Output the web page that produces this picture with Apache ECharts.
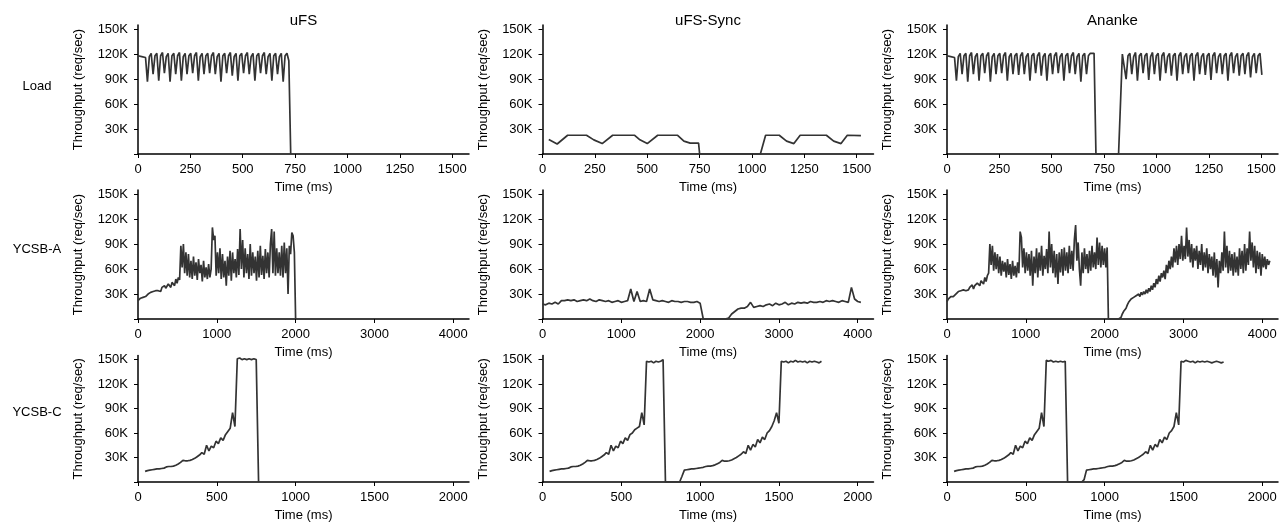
<!DOCTYPE html>
<html>
<head>
<meta charset="utf-8">
<script src="https://cdn.jsdelivr.net/npm/echarts@6/dist/echarts.min.js"></script>
<style>
html,body{margin:0;padding:0;background:#fff;}
#c{width:1286px;height:523px;}
</style>
</head>
<body>
<div id="c"></div>
<script>
// ---------------- DATA (throughput in K req/sec) ----------------
const columnTitles = ['uFS', 'uFS-Sync', 'Ananke'];
const rowLabels = ['Load', 'YCSB-A', 'YCSB-C'];
const yTickValues = [30, 60, 90, 120, 150];
const xTickValuesLoad = [0, 250, 500, 750, 1000, 1250, 1500];
const xTickValuesA = [0, 1000, 2000, 3000, 4000];
const xTickValuesC = [0, 500, 1000, 1500, 2000];

// Load workload (sampled every 9 ms from 0 ms)
const loadUfsVals = [118,118,117,117,116,
 87,117,121, 96,118,121, 88,118,122, 97,117,121, 87,118,121,
 96,118,122, 88,117,121, 96,118,121, 97,118,122, 88,117,121,
 96,118,121, 97,118,122, 96,117,121, 87,118,121, 97,118,122,
 94,117,121, 88,118,121, 97,118,122, 96,117,121, 88,118,121,
 97,118,122, 96,117,121, 88,118,121, 96,117,121, 87,118,121,
 112, 0];
const loadAnankeVals = [118,118,117,117,116,
 88,117,121, 96,118,121, 87,118,122, 96,117,121, 88,118,121,
 97,118,122, 87,117,121, 96,118,121, 97,118,122, 88,117,121,
 96,118,121, 95,118,122, 96,117,121, 88,118,121, 97,118,122,
 94,117,121, 88,118,121, 96,118,122, 97,117,121, 88,118,121,
 97,118,122, 96,117,121, 87,118,121, 96,118,121,
 121,121,0,
 0,0,0,0,0,0,0,0,0,0,0,0,0,
 120,121,
 90,118,121, 96,117,122, 88,118,121, 97,118,121, 89,117,122,
 96,118,121, 88,118,122, 97,117,121, 94,118,121, 88,118,122,
 96,117,121, 97,118,121, 88,118,122, 96,117,121, 95,118,121,
 89,118,122, 97,117,121, 96,118,121, 88,118,122, 97,117,121,
 94,118,121, 96,118,122, 92,117,121, 97,118,121,
 95];
// uFS-Sync Load: [time ms, K req/sec]
const loadSyncPts = [[30,17.5],[70,12],[120,22.5],[210,22.5],[245,17],[285,12.5],[335,22.5],[440,22.5],[465,17],[500,12.5],[550,22.5],[645,22.5],[675,15.5],[705,13],[745,13],[750,0],[1040,0],[1065,22.5],[1130,22.5],[1165,15.5],[1200,12.5],[1230,22.5],[1355,22.5],[1390,15.5],[1425,12.5],[1455,22.5],[1520,22]];

// YCSB-A (uFS & Ananke sampled every 16 ms, uFS-Sync every 40 ms, from 0 ms)
const ycsbAUfsVals = [22,24,25,27,26,28,27,
 29,30,29,32,31,33,32,34,35,
 34,36,33,38,36,40,37,39,42,41,38,44,
 46,40,48,43,50,47,
 88,
 62,90,55,80,52,78,50,70,48,75,52,68,47,72,55,65,45,70,50,62,48,66,50,60,
 110,95,100,
 52,80,55,85,48,78,50,70,40,75,52,82,46,80,55,72,50,84,53,
 108,60,95,
 50,85,55,78,48,90,52,80,55,75,46,82,50,88,53,76,48,84,55,80,50,90,
 108,55,105,52,
 85,55,80,52,88,50,92,55,
 85,30,88,78,104,100,80,0];
const ycsbASyncVals = [18,17,19,18,20,18,22,22,23,22,
 23,21,22,23,22,24,22,21,23,22,
 21,22,20,21,22,20,21,
 22,36,21,33,21,22,21,36,23,
 22,21,22,21,20,22,21,21,20,21,21,20,20,21,
 19,0,
 0,0,0,0,0,0,0,
 1,6,9,12,13,13,15,20,14,15,
 16,15,17,18,16,19,17,18,20,17,
 19,18,20,19,20,19,21,20,20,21,
 20,22,21,22,21,20,22,21,20,38,
 24,21,20];
const ycsbAAnankeVals = [21,24,26,27,28,27,29,
 30,31,33,32,34,33,35,36,34,
 36,35,38,37,41,36,40,39,43,44,40,46,
 47,42,50,45,52,55,
 90,65,88,58,80,60,78,
 55,75,52,70,57,68,50,72,53,66,48,70,52,64,50,68,55,
 105,98,62,85,
 55,80,58,78,52,82,40,75,55,85,50,80,58,88,52,76,60,84,55,
 105,62,90,55,82,
 50,78,42,80,56,84,52,86,58,80,55,88,60,82,58,
 95,113,70,92,60,
 40,80,55,85,60,78,55,82,58,88,62,80,60,
 98,65,92,62,88,65,85,62,86,0,
 0,0,0,0,0,0,0,0,0,
 2,6,9,11,13,17,20,19,24,22,
 26,24,28,26,30,27,32,29,33,30,
 35,31,37,33,40,35,43,38,48,42,
 52,45,55,50,58,48,65,55,70,60,
 75,62,85,68,88,65,90,72,100,70,
 88,72,110,75,95,68,90,62,85,70,
 88,60,82,65,90,58,80,62,85,55,
 78,60,75,52,80,50,72,38,70,55,
 80,58,105,62,88,55,82,58,78,52,
 80,56,75,52,85,60,82,55,90,58,
 85,65,105,70,92,62,88,55,82,60,
 80,52,78,62,75,60,72,65,70];

// YCSB-C (sampled every 15 ms from 45 ms)
const ycsbCUfsVals = [13,14,14.5,15,15.5,16,16,16.5,17,18.5,
 19,19,19.5,20.5,22,24,26.5,26,26,26.5,
 27.5,29,31,33,36,34,45,38,44,42,
 50,47,54,51,58,62,66,85,68,151,
 152,150,151,150,151,150,151,150,0];
const ycsbCSyncVals = [13,14,14.5,15,15.5,16,16,16.5,17,18.5,
 19,19,19.5,20.5,22,24,26.5,26,26,26.5,
 27.5,29,31,33,36,34,45,38,44,42,
 50,47,54,51,58,60,64,66,68,85,
 70,148,147,148,146,148,147,148,150,0,
 0,0,0,0,0,0,7,14.5,
 15,15.5,16,16,16.5,17,17.5,18,19,19.5,
 19.5,20,21,22.5,24,26.5,25.5,25.5,26,27,
 28.5,30,32,34,37,35,45,39,46,43,
 52,48,55,52,60,63,68,75,85,72,
 148,147,148,146,148,147,149,147,148,147,148,146,148,147,148,147,146,148];
const ycsbCAnankeVals = [13,14,14.5,15,15.5,16,16,16.5,17,18.5,
 19,19,19.5,20.5,22,24,26.5,26,26,26.5,
 27.5,29,31,33,36,34,45,38,44,42,
 50,47,54,51,58,62,66,85,68,149,
 148,149,147,148,147,148,147,148,0,
 0,0,0,0,0,0,3,14.5,
 15,15.5,16,16,16.5,17,17.5,18,19,19.5,
 19.5,20,21,22.5,24,26.5,25.5,25.5,26,27,
 28.5,30,32,34,37,35,45,39,46,43,
 52,48,55,52,60,63,68,85,70,
 148,147,149,148,147,148,146,148,147,148,147,148,147,146,147,148,147,146,147];

// ---------------- BUILD ----------------
function seq(t0, step, vals) { return vals.map((v, i) => [t0 + i * step, v]); }

const panels = [
  [seq(0, 9, loadUfsVals), loadSyncPts, seq(0, 9, loadAnankeVals)],
  [seq(0, 16, ycsbAUfsVals), seq(0, 40, ycsbASyncVals), seq(0, 16, ycsbAAnankeVals)],
  [seq(45, 15, ycsbCUfsVals), seq(45, 15, ycsbCSyncVals), seq(45, 15, ycsbCAnankeVals)]
];
const xTickSets = [xTickValuesLoad, xTickValuesA, xTickValuesC];
const xMax = [1580, 4200, 2100];

const colLeft = [138, 542.5, 947];
const rowTop = [25, 190, 355.5];
const plotW = 331, plotH = 129;
const FONT = "'Liberation Sans', Arial, Helvetica, sans-serif";

const grid = [], xAxis = [], yAxis = [], series = [];
let k = 0;
for (let r = 0; r < 3; r++) {
  for (let c = 0; c < 3; c++) {
    grid.push({ left: colLeft[c], top: rowTop[r], width: plotW, height: plotH });
    xAxis.push({
      type: 'value', gridIndex: k, min: 0, max: xMax[r],
      name: 'Time (ms)', nameLocation: 'middle', nameGap: 27,
      nameTextStyle: { color: '#000', fontSize: 13, fontFamily: FONT },
      axisLine: { show: true, onZero: false, lineStyle: { color: '#000', width: 1.5 } },
      axisTick: { show: true, length: 4, lineStyle: { color: '#000', width: 1 }, customValues: xTickSets[r] },
      axisLabel: { color: '#000', fontSize: 13, fontFamily: FONT, margin: 9, customValues: xTickSets[r], formatter: v => String(v) },
      splitLine: { show: false }
    });
    yAxis.push({
      type: 'value', gridIndex: k, min: 0, max: 155,
      name: 'Throughput (req/sec)', nameLocation: 'middle', nameGap: 53,
      nameTextStyle: { color: '#000', fontSize: 13, fontFamily: FONT },
      axisLine: { show: true, lineStyle: { color: '#000', width: 1.5 } },
      axisTick: { show: true, length: 4, lineStyle: { color: '#000', width: 1 }, customValues: [0].concat(yTickValues) },
      axisLabel: { color: '#000', fontSize: 13, fontFamily: FONT, margin: 10, customValues: yTickValues, formatter: v => v + 'K' },
      splitLine: { show: false }
    });
    series.push({
      type: 'line', xAxisIndex: k, yAxisIndex: k, data: panels[r][c],
      showSymbol: false, symbol: 'none', z: 1,
      lineStyle: { color: '#333', width: 1.7 }
    });
    k++;
  }
}

const graphic = [];
for (let c = 0; c < 3; c++) {
  graphic.push({ type: 'text', x: colLeft[c] + plotW / 2, y: 21,
    style: { text: columnTitles[c], align: 'center', verticalAlign: 'middle', font: '15px ' + FONT, fill: '#000' } });
}
const rowLabelY = [86, 249, 412];
for (let r = 0; r < 3; r++) {
  graphic.push({ type: 'text', x: 37, y: rowLabelY[r],
    style: { text: rowLabels[r], align: 'center', verticalAlign: 'middle', font: '13px ' + FONT, fill: '#000' } });
}

const chart = echarts.init(document.getElementById('c'), null, { renderer: 'canvas' });
chart.setOption({
  animation: false,
  backgroundColor: '#fff',
  grid, xAxis, yAxis, series, graphic
});
</script>
</body>
</html>
